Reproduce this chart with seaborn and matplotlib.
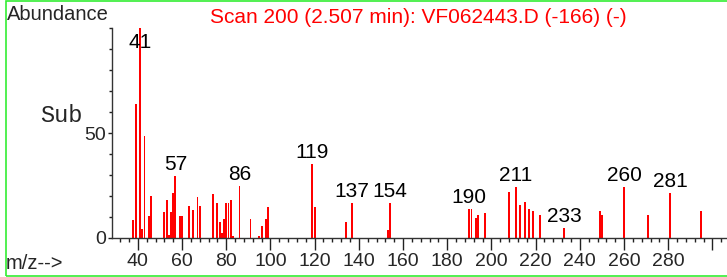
import matplotlib
matplotlib.use("Agg")
import matplotlib.pyplot as plt
from matplotlib.patches import Rectangle
from matplotlib.ticker import MultipleLocator, FixedLocator, FixedFormatter
import seaborn as sns
import pandas as pd

# ---- data ----
mz = [38, 39, 41, 42, 43, 45, 46, 52, 53, 54, 55, 56, 57, 59, 60, 63, 65, 67, 68,
      74, 76, 77, 78, 79, 80, 81, 82, 83, 86, 91, 95, 96, 98, 99,
      119, 120, 134, 137, 153, 154,
      190, 191, 193, 194, 197, 208, 211, 213, 215, 217, 219, 222, 233,
      249, 250, 260, 271, 281, 295]
abundance = [8.7, 64, 100, 4.3, 48.7, 10.3, 19.8, 12.4, 18.3, 1.6, 12.4, 21.4, 29.4, 10.3, 10.3, 15.4, 13.5, 19.5, 15.4,
             21, 16.7, 7.5, 2.4, 9.2, 16.7, 16.7, 18.3, 0.8, 24.6, 9.2, 0.8, 5.9, 9.2, 14.8,
             35.4, 14.8, 7.5, 16.7, 4, 16.7,
             13.8, 13.8, 9.5, 10.8, 12, 21.7, 24.1, 15.7, 17, 13.8, 12.7, 10.8, 4.6,
             12.7, 10.8, 24.1, 10.8, 21.3, 12.7]
labeled_peaks = [41, 57, 86, 119, 137, 154, 190, 211, 233, 260, 281]
x_tick_labels = ["40", "60", "80", "100", "120", "140", "160", "180", "200", "220", "240", "260", "280", ""]
x_tick_values = [40, 60, 80, 100, 120, 140, 160, 180, 200, 220, 240, 260, 280, 300]
y_tick_values = [0, 50]
title = "Scan 200 (2.507 min): VF062443.D (-166) (-)"

sns.set_style("white")
plt.rcParams["font.family"] = ["Liberation Sans", "DejaVu Sans"]

W, H = 727, 277
fig = plt.figure(figsize=(W / 100, H / 100), dpi=100)
ax = fig.add_axes([112 / W, 39 / H, (W - 112) / W, 210 / H])

df = pd.DataFrame({"mz": mz, "abundance": abundance})
sns.barplot(data=df, x="mz", y="abundance", native_scale=True, color="#ff0000",
            saturation=1, width=0.85, linewidth=0, errorbar=None, ax=ax)

ax.set_xlim(28.3, 306.6)
ax.set_ylim(0, 100)
ax.set_xlabel("")
ax.set_ylabel("")
for s in ["top", "right"]:
    ax.spines[s].set_visible(False)
for s in ["left", "bottom"]:
    ax.spines[s].set_color("#333333")
    ax.spines[s].set_linewidth(1.0)

ax.xaxis.set_major_locator(FixedLocator(x_tick_values))
ax.xaxis.set_major_formatter(FixedFormatter(x_tick_labels))
ax.xaxis.set_minor_locator(MultipleLocator(4))
ax.yaxis.set_major_locator(FixedLocator(y_tick_values))
ax.yaxis.set_minor_locator(MultipleLocator(10))
ax.tick_params(axis="x", which="major", direction="out", length=8.5, width=1,
               color="#222222", labelsize=14, pad=2.5, bottom=True)
ax.tick_params(axis="x", which="minor", direction="out", length=3, width=1,
               color="#222222", bottom=True)
ax.tick_params(axis="y", which="major", direction="out", length=3, width=1,
               color="#222222", labelsize=14, pad=1, left=True)
ax.tick_params(axis="y", which="minor", direction="out", length=2.5, width=1,
               color="#222222", left=True)

for p in ax.patches:
    p.set_clip_on(False)

for pk in labeled_peaks:
    h = abundance[mz.index(pk)]
    ax.annotate(str(pk), xy=(pk, min(h, 87.6)), xytext=(0, 4.3),
                textcoords="offset points", ha="center", va="baseline",
                fontsize=15, color="black")

fig.text(7 / W, 1 - 20 / H, "Abundance", fontsize=14.5, va="baseline", ha="left")
fig.text(6 / W, 1 - 269 / H, "m/z-->", fontsize=14.5, va="baseline", ha="left")
fig.text(418 / W, 1 - 23 / H, title, fontsize=15, color="#ff0000",
         va="baseline", ha="center")
fig.text(40 / W, 1 - 122 / H, "Sub", fontsize=17, va="baseline", ha="left",
         family=["Liberation Mono", "DejaVu Sans Mono"])

fig.patches.append(Rectangle((5.5 / W, 1.2 / H), 1.05, (H - 2.4) / H,
                             transform=fig.transFigure, fill=False,
                             edgecolor="#33ee33", linewidth=1.2))

fig.savefig("out.png", dpi=100)
